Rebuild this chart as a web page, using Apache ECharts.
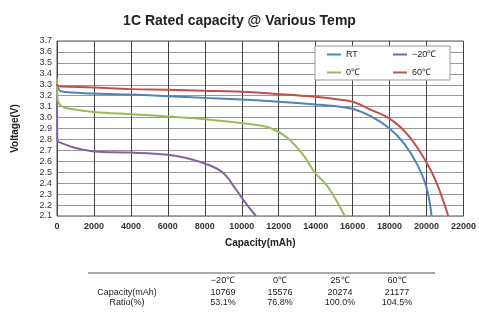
<!DOCTYPE html>
<html>
<head>
<meta charset="utf-8">
<script src="https://cdn.jsdelivr.net/npm/echarts@6/dist/echarts.min.js"></script>
<style>
    html, body { margin: 0; padding: 0; background: #fff; }
    #chart { width: 479px; height: 312px; }
</style>
</head>
<body>
<div id="chart"></div>
<script>
// Данные кривых разряда (ёмкость мАч / напряжение В)
const capRT = [0, 60, 200, 2000, 4000, 6000, 8000, 10000, 12000, 14000, 15000, 16000, 17000, 18000, 18800, 19500, 20000, 20274];
const voltRT = [3.31, 3.27, 3.24, 3.22, 3.21, 3.195, 3.18, 3.165, 3.145, 3.12, 3.105, 3.08, 3.01, 2.9, 2.76, 2.57, 2.36, 2.1];

const capM20 = [0, 20, 200, 1060, 2000, 4000, 6000, 7000, 8000, 8950, 9700, 10200, 10769];
const voltM20 = [3.3, 2.79, 2.77, 2.72, 2.69, 2.68, 2.66, 2.63, 2.58, 2.5, 2.34, 2.22, 2.1];

const cap0 = [0, 30, 200, 700, 2000, 4000, 6000, 8000, 9700, 10900, 11600, 12500, 13400, 13940, 14650, 15576];
const volt0 = [3.36, 3.17, 3.11, 3.08, 3.05, 3.03, 3.01, 2.985, 2.955, 2.93, 2.9, 2.81, 2.64, 2.5, 2.37, 2.1];

const cap60 = [0, 60, 200, 2000, 4000, 6000, 8000, 10000, 12000, 14000, 15000, 16000, 17000, 18000, 19000, 20000, 20550, 21177];
const volt60 = [3.31, 3.29, 3.285, 3.275, 3.26, 3.255, 3.245, 3.235, 3.215, 3.19, 3.17, 3.145, 3.07, 2.99, 2.84, 2.59, 2.4, 2.1];

// Таблица под графиком
const tableTemps = ['−20℃', '0℃', '25℃', '60℃'];
const tableCapacity = ['10769', '15576', '20274', '21177'];
const tableRatio = ['53.1%', '76.8%', '100.0%', '104.5%'];

const FONT = 'Arial, "Liberation Sans", sans-serif';

function zip(xs, ys) {
    return xs.map((x, i) => [x, ys[i]]);
}

function makeSeries(name, xs, ys, color) {
    return {
        name: name,
        type: 'line',
        data: zip(xs, ys),
        showSymbol: false,
        smooth: 0.4,
        lineStyle: { width: 2, color: color },
        itemStyle: { color: color }
    };
}

// Построение таблицы через graphic
function buildTable() {
    const colX = [223, 280, 340, 397];
    const rows = [
        { y: 281, label: '', cells: tableTemps },
        { y: 293, label: 'Capacity(mAh)', cells: tableCapacity },
        { y: 303, label: 'Ratio(%)', cells: tableRatio }
    ];
    const els = [{
        type: 'line',
        shape: { x1: 88, y1: 273, x2: 435, y2: 273 },
        style: { stroke: '#555', lineWidth: 1 }
    }];
    rows.forEach(row => {
        if (row.label) {
            els.push({
                type: 'text', x: 127, y: row.y,
                style: { text: row.label, fill: '#222', font: '9px ' + FONT, align: 'center', verticalAlign: 'middle' }
            });
        }
        row.cells.forEach((c, i) => {
            els.push({
                type: 'text', x: colX[i], y: row.y,
                style: { text: c, fill: '#222', font: '9px ' + FONT, align: 'center', verticalAlign: 'middle' }
            });
        });
    });
    return els;
}

const chart = echarts.init(document.getElementById('chart'), null, { renderer: 'canvas' });

chart.setOption({
    animation: false,
    backgroundColor: '#fff',
    title: {
        text: '1C Rated capacity @ Various Temp',
        left: 'center',
        top: 9,
        textStyle: { fontFamily: FONT, fontSize: 14, fontWeight: 'bold', color: '#222' }
    },
    legend: {
        data: ['RT', '−20℃', '0℃', '60℃'],
        left: 315,
        top: 46,
        width: 126,
        orient: 'horizontal',
        icon: 'rect',
        itemWidth: 14,
        itemHeight: 2,
        itemGap: 9,
        padding: [4, 0, 3, 12],
        backgroundColor: '#fff',
        borderColor: '#999',
        borderWidth: 1,
        textStyle: { fontFamily: FONT, fontSize: 9, color: '#222', width: 38, lineHeight: 8 }
    },
    grid: {
        left: 57,
        right: 12,
        top: 41,
        bottom: 96,
        show: true,
        borderColor: '#555',
        borderWidth: 1,
        containLabel: false
    },
    xAxis: {
        type: 'value',
        min: 0,
        max: 22000,
        interval: 2000,
        name: 'Capacity(mAh)',
        nameLocation: 'middle',
        nameGap: 22,
        nameTextStyle: { fontFamily: FONT, fontSize: 10, fontWeight: 'bold', color: '#222' },
        axisLine: { show: false },
        axisTick: { show: false },
        axisLabel: {
            fontFamily: FONT, fontSize: 9, fontWeight: 'bold', color: '#333', margin: 6,
            formatter: v => String(v)
        },
        splitLine: { show: true, lineStyle: { color: '#444', width: 1 } }
    },
    yAxis: {
        type: 'value',
        min: 2.1,
        max: 3.7,
        interval: 0.1,
        name: 'Voltage(V)',
        nameLocation: 'middle',
        nameGap: 37,
        nameTextStyle: { fontFamily: FONT, fontSize: 10, fontWeight: 'bold', color: '#222' },
        axisLine: { show: false },
        axisTick: { show: false },
        axisLabel: {
            fontFamily: FONT, fontSize: 9, color: '#333', margin: 5,
            formatter: v => v.toFixed(1)
        },
        splitLine: { show: true, lineStyle: { color: '#999', width: 1 } }
    },
    series: [
        makeSeries('RT', capRT, voltRT, '#4f81bd'),
        makeSeries('−20℃', capM20, voltM20, '#8064a2'),
        makeSeries('0℃', cap0, volt0, '#9bbb59'),
        makeSeries('60℃', cap60, volt60, '#c0504d')
    ],
    graphic: buildTable()
});
</script>
</body>
</html>
